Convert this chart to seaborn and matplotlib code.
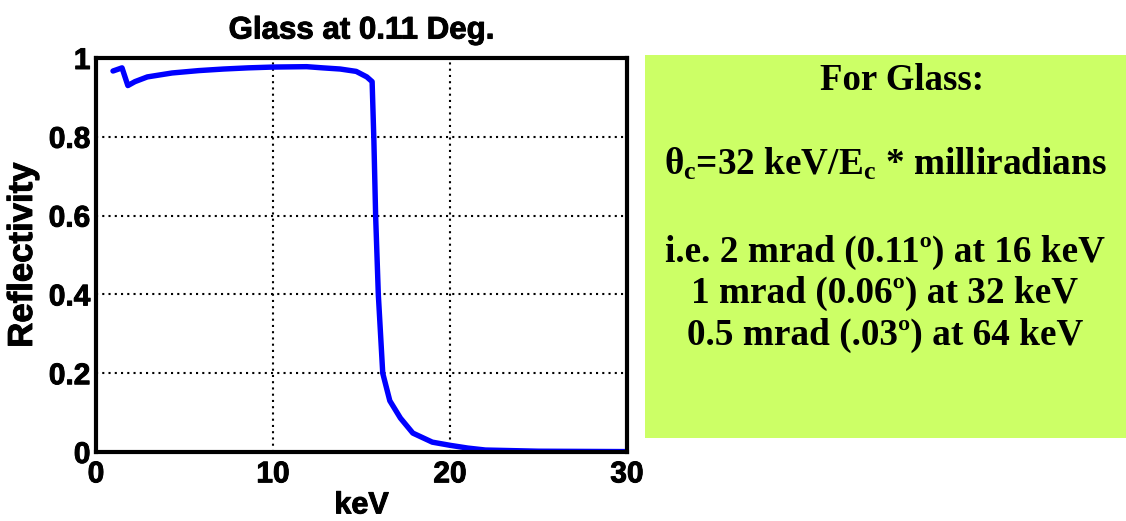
import matplotlib
matplotlib.use("Agg")
import matplotlib.pyplot as plt
import matplotlib.patheffects as pe
from matplotlib.patches import Rectangle
import seaborn as sns
import pandas as pd

# Reflectivity of glass at a grazing angle of 0.11 degrees
energy_kev = [0.96, 1.47, 1.8, 2.2, 2.9, 4.3, 5.8, 7.2, 8.6, 10.0, 11.9, 12.8, 13.8, 14.7,
              15.3, 15.6, 15.7, 15.8, 15.95, 16.05, 16.2, 16.6, 17.2, 17.9, 19.0, 20.0,
              21.0, 22.0, 25.0, 30.0]
reflectivity = [0.967, 0.975, 0.93, 0.94, 0.952, 0.962, 0.968, 0.972, 0.975, 0.977, 0.978,
                0.975, 0.972, 0.966, 0.952, 0.94, 0.79, 0.597, 0.40, 0.32, 0.20, 0.13,
                0.086, 0.048, 0.025, 0.017, 0.010, 0.005, 0.002, 0.001]

x_ticks = [0, 10, 20, 30]
y_ticks = [0, 0.2, 0.4, 0.6, 0.8, 1]
y_tick_labels = ["0", "0.2", "0.4", "0.6", "0.8", "1"]

title = "Glass at 0.11 Deg."
note_heading = "For Glass:"
note_formula = r"$\theta_c$=32 keV/E$_c$ * milliradians"
note_lines = ["i.e. 2 mrad (0.11º) at 16 keV",
              "1 mrad (0.06º) at 32 keV",
              "0.5 mrad (.03º) at 64 keV"]

sns.set_style("white")
plt.rcParams["font.family"] = ["Liberation Sans", "DejaVu Sans"]
plt.rcParams["text.color"] = "black"
plt.rcParams["axes.labelcolor"] = "black"
plt.rcParams["xtick.color"] = "black"
plt.rcParams["ytick.color"] = "black"
plt.rcParams["mathtext.fontset"] = "custom"
plt.rcParams["mathtext.rm"] = "Liberation Serif:bold"
plt.rcParams["mathtext.it"] = "Liberation Serif:bold"
plt.rcParams["mathtext.bf"] = "Liberation Serif:bold"

df = pd.DataFrame({"keV": energy_kev, "Reflectivity": reflectivity})

W, H = 1126, 521
fig = plt.figure(figsize=(W / 100, H / 100), dpi=100)
ax = fig.add_axes([96 / W, 1 - 452 / H, 531 / W, 394 / H])

sns.lineplot(data=df, x="keV", y="Reflectivity", ax=ax, color="#0000ff",
             linewidth=3.9, sort=False)

ax.set_xlim(0, 30)
ax.set_ylim(0, 1)
ax.set_xticks(x_ticks)
ax.set_yticks(y_ticks)
ax.set_yticklabels(y_tick_labels)
ax.grid(True, color="black", linestyle=(0, (1, 2)), linewidth=1.5)
ax.tick_params(axis="both", direction="in", length=6, width=2, labelsize=21.5,
               colors="black", pad=4)
ax.tick_params(axis="x", pad=6)

heavy = [pe.withStroke(linewidth=0.7, foreground="black")]
for lbl in ax.get_xticklabels() + ax.get_yticklabels():
    lbl.set_fontweight("bold")
    lbl.set_path_effects(heavy)
for s in ax.spines.values():
    s.set_linewidth(3)
    s.set_color("black")

ax.set_xlabel("keV", fontsize=22, fontweight="bold", labelpad=1.5,
              path_effects=heavy)
ax.set_ylabel("Reflectivity", fontsize=25, fontweight="bold", labelpad=7,
              path_effects=heavy)
ax.set_title(title, fontsize=22.5, fontweight="bold", pad=14, path_effects=heavy)

# Annotation panel on the right
fig.patches.append(Rectangle((645 / W, 1 - 438 / H), 481 / W, 383 / H,
                             transform=fig.transFigure, facecolor="#ccff66",
                             edgecolor="none", zorder=0))
serif = ["Liberation Serif", "DejaVu Serif"]
fig.text(902 / W, 1 - 90 / H, note_heading, ha="center", va="baseline",
         fontsize=26.5, fontweight="bold", family=serif)
fig.text(885 / W, 1 - 175 / H, note_formula, ha="center", va="baseline",
         fontsize=26.8, fontweight="bold", family=serif)
for base, line in zip([262, 303, 345], note_lines):
    fig.text(885 / W, 1 - base / H, line, ha="center", va="baseline",
             fontsize=26.8, fontweight="bold", family=serif)

fig.savefig("out.png", dpi=100)
